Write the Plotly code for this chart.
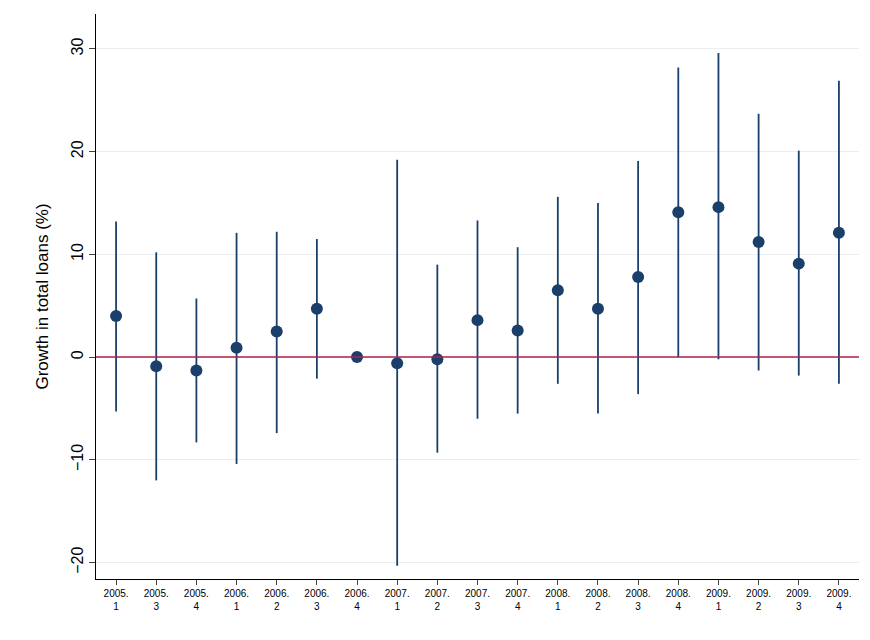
import plotly.graph_objects as go

cats = ["2005.<br>1","2005.<br>3","2005.<br>4","2006.<br>1","2006.<br>2","2006.<br>3","2006.<br>4",
        "2007.<br>1","2007.<br>2","2007.<br>3","2007.<br>4","2008.<br>1","2008.<br>2","2008.<br>3",
        "2008.<br>4","2009.<br>1","2009.<br>2","2009.<br>3","2009.<br>4"]
est = [4.0,-0.9,-1.3,0.9,2.5,4.7,0.0,-0.6,-0.2,3.6,2.6,6.5,4.7,7.8,14.1,14.6,11.2,9.1,12.1]
upper = [13.2,10.2,5.7,12.1,12.2,11.5,0.0,19.2,9.0,13.3,10.7,15.6,15.0,19.1,28.2,29.6,23.7,20.1,26.9]
lower = [-5.3,-12.0,-8.3,-10.4,-7.4,-2.1,0.0,-20.3,-9.3,-6.0,-5.5,-2.6,-5.5,-3.6,0.0,-0.2,-1.3,-1.8,-2.6]

x = list(range(len(cats)))
fig = go.Figure()
fig.add_hline(y=0, line=dict(color="#b0204a", width=1.5))
fig.add_trace(go.Scatter(
    x=x, y=est, mode="markers",
    marker=dict(color="#1a3f6b", size=12),
    error_y=dict(type="data", symmetric=False,
                 array=[u-e for u, e in zip(upper, est)],
                 arrayminus=[e-l for e, l in zip(est, lower)],
                 color="#1a3f6b", thickness=1.8, width=0),
    showlegend=False))
fig.update_layout(
    width=870, height=640, paper_bgcolor="white", plot_bgcolor="white",
    margin=dict(l=88, r=19, t=6, b=69),
    font=dict(family="Arial, Liberation Sans", color="black"),
    xaxis=dict(tickmode="array", tickvals=x, ticktext=cats, range=[-0.5, 18.5],
               showline=True, linecolor="black", ticks="outside", ticklen=5,
               tickfont=dict(size=10), showgrid=False, zeroline=False),
    yaxis=dict(range=[-21.6, 33.4], tickvals=[-20,-10,0,10,20,30], tickangle=-90,
               showline=True, linecolor="black", ticks="outside", ticklen=6,
               tickfont=dict(size=16), gridcolor="#e8eef2", zeroline=False,
               title=dict(text="Growth in total loans (%)", font=dict(size=17))),
)
fig.write_html("out.html")
